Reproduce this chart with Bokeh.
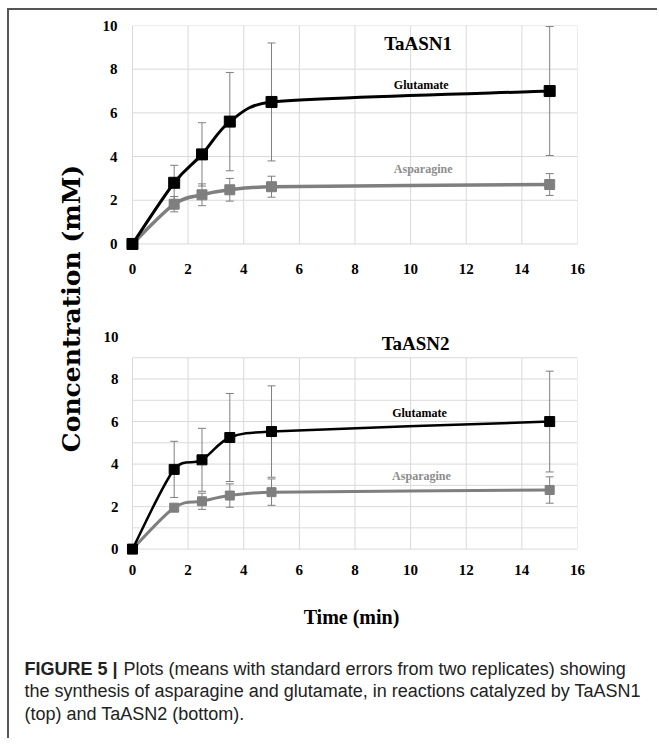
import math
from bokeh.plotting import figure
from bokeh.models import Range1d, ColumnDataSource, Whisker, TeeHead, Label, FixedTicker
from bokeh.layouts import row, column
from bokeh.embed import file_html
from bokeh.resources import INLINE

# ---------------- data ----------------
time_min = [0, 1.5, 2.5, 3.5, 5, 15]

glu_asn1 = [0, 2.8, 4.1, 5.6, 6.5, 7.0]
glu_asn1_err = [0, 0.8, 1.45, 2.25, 2.7, 2.95]
asn_asn1 = [0, 1.82, 2.25, 2.48, 2.62, 2.72]
asn_asn1_err = [0, 0.35, 0.5, 0.52, 0.48, 0.5]

glu_asn2 = [0, 3.75, 4.2, 5.25, 5.53, 6.0]
glu_asn2_err = [0, 1.32, 1.48, 2.07, 2.15, 2.37]
asn_asn2 = [0, 1.95, 2.25, 2.52, 2.68, 2.78]
asn_asn2_err = [0, 0.1, 0.38, 0.55, 0.62, 0.62]

x_ticks = [0, 2, 4, 6, 8, 10, 12, 14, 16]
y_ticks = [0, 2, 4, 6, 8, 10]
y_grid_top = [0, 2, 4, 6, 8, 10]
y_grid_bottom = [0, 1, 2, 3, 4, 5, 6, 7, 8, 9]

# ---------------- styles ----------------
SERIF = "Liberation Serif"
GRID = "#d9d9d9"
GREY = "#7f7f7f"
LABEL_GREY = "#8c8c8c"


def excel_bezier(xs, ys, sx=28.0, sy=21.6):
    P = [(x * sx, y * sy) for x, y in zip(xs, ys)]
    n = len(P)
    out = {k: [] for k in ("x0", "y0", "x1", "y1", "cx0", "cy0", "cx1", "cy1")}

    def d(a, b):
        return math.hypot(a[0] - b[0], a[1] - b[1])

    for i in range(n - 1):
        p0 = P[i - 1] if i > 0 else P[i]
        p1, p2 = P[i], P[i + 1]
        p3 = P[i + 2] if i + 2 < n else P[i + 1]
        d02, d12, d13 = d(p0, p2), d(p1, p2), d(p1, p3)
        f = g = 1.0 / 6.0
        if d02 / 6 >= d12 / 2:
            f = d12 / (2 * d02)
        if d13 / 6 >= d12 / 2:
            g = d12 / (2 * d13)
        b1 = (p1[0] + f * (p2[0] - p0[0]), p1[1] + f * (p2[1] - p0[1]))
        b2 = (p2[0] - g * (p3[0] - p1[0]), p2[1] - g * (p3[1] - p1[1]))
        out["x0"].append(p1[0] / sx); out["y0"].append(p1[1] / sy)
        out["x1"].append(p2[0] / sx); out["y1"].append(p2[1] / sy)
        out["cx0"].append(b1[0] / sx); out["cy0"].append(b1[1] / sy)
        out["cx1"].append(b2[0] / sx); out["cy1"].append(b2[1] / sy)
    return out


def serif_label(text, x, y, size, color="black"):
    return Label(x=x, y=y, text=text, text_font=SERIF, text_font_style="bold",
                 text_font_size=size, text_color=color, text_align="center",
                 text_baseline="middle")


def panel(height, borders, y_grid, glu, glu_err, asn, asn_err, title, title_xy,
          glu_xy, asn_xy, sizes, y_standoff, x_standoff):
    left, right, top, bottom = borders
    p = figure(width=568, height=height, x_range=Range1d(-0.25, 16), y_range=Range1d(-0.3, 10),
               output_backend="svg", toolbar_location=None,
               min_border_left=left, min_border_right=right,
               min_border_top=top, min_border_bottom=bottom)
    p.grid.visible = False
    p.outline_line_color = None

    # grid lines
    p.segment(x0=[x_ticks[0]] * len(y_grid), x1=[x_ticks[-1]] * len(y_grid),
              y0=y_grid, y1=y_grid, line_color=GRID, line_width=1, level="image")
    p.segment(x0=x_ticks, x1=x_ticks, y0=[y_grid[0]] * len(x_ticks),
              y1=[y_grid[-1]] * len(x_ticks), line_color=GRID, line_width=1, level="image")

    # axes
    p.xaxis.ticker = FixedTicker(ticks=x_ticks)
    p.yaxis.ticker = FixedTicker(ticks=y_ticks)
    for ax in (p.xaxis, p.yaxis):
        ax.axis_line_color = None
        ax.major_tick_line_color = None
        ax.minor_tick_line_color = None
        ax.major_label_text_font = SERIF
        ax.major_label_text_font_style = "bold"
        ax.major_label_text_font_size = "15px"
        ax.major_label_text_color = "black"
    p.yaxis.major_label_standoff = y_standoff
    p.xaxis.major_label_standoff = x_standoff

    glu_lw, asn_lw, glu_ms, asn_ms = sizes

    for ys, errs in ((asn, asn_err), (glu, glu_err)):
        src = ColumnDataSource(dict(t=time_min,
                                    lo=[y - e for y, e in zip(ys, errs)],
                                    up=[y + e for y, e in zip(ys, errs)]))
        w = Whisker(source=src, base="t", lower="lo", upper="up", dimension="height",
                    line_color=GREY, line_width=1, level="underlay",
                    upper_head=TeeHead(size=8, line_color=GREY, line_width=1),
                    lower_head=TeeHead(size=8, line_color=GREY, line_width=1))
        p.add_layout(w)

    p.bezier(source=ColumnDataSource(excel_bezier(time_min, asn)),
             x0="x0", y0="y0", x1="x1", y1="y1", cx0="cx0", cy0="cy0",
             cx1="cx1", cy1="cy1", line_color=GREY, line_width=asn_lw)
    p.bezier(source=ColumnDataSource(excel_bezier(time_min, glu)),
             x0="x0", y0="y0", x1="x1", y1="y1", cx0="cx0", cy0="cy0",
             cx1="cx1", cy1="cy1", line_color="black", line_width=glu_lw)
    p.scatter(time_min, asn, marker="square", size=asn_ms, fill_color=GREY, line_color=GREY)
    p.scatter(time_min, glu, marker="square", size=glu_ms, fill_color="black", line_color="black")

    p.add_layout(serif_label(title, title_xy[0], title_xy[1], "19px"))
    p.add_layout(serif_label("Glutamate", glu_xy[0], glu_xy[1], "12px"))
    p.add_layout(serif_label("Asparagine", asn_xy[0], asn_xy[1], "12px", LABEL_GREY))
    return p


p1 = panel(280, (34, 80, 15, 40), y_grid_top, glu_asn1, glu_asn1_err, asn_asn1, asn_asn1_err,
           "TaASN1", (10.27, 9.17), (10.38, 7.29), (10.45, 3.44),
           (3, 3.5, 11, 10), 2, 7)
p2 = panel(340, (36, 77, 46, 75), y_grid_bottom, glu_asn2, glu_asn2_err, asn_asn2, asn_asn2_err,
           "TaASN2", (10.18, 9.67), (10.32, 6.38), (10.39, 3.43),
           (2.5, 3, 10, 9), 1, 3)
p2.xaxis.axis_label = "Time (min)"
p2.xaxis.axis_label_text_font = SERIF
p2.xaxis.axis_label_text_font_style = "bold"
p2.xaxis.axis_label_text_font_size = "20px"
p2.xaxis.axis_label_text_color = "black"
p2.xaxis.axis_label_standoff = 28

# y-axis title panel
ylab = figure(width=80, height=620, x_range=Range1d(0, 80), y_range=Range1d(0, 620),
              output_backend="svg", toolbar_location=None, min_border=0,
              x_axis_location=None, y_axis_location=None)
ylab.grid.visible = False
ylab.outline_line_color = None
ylab.add_layout(Label(x=62, y=322, text="Concentration (mM)", angle=90, angle_units="deg",
                      text_align="center", text_baseline="middle", text_font="DejaVu Serif",
                      text_font_style="bold", text_font_size="25px", text_color="black"))

# caption panel
cap = figure(width=648, height=108, x_range=Range1d(0, 648), y_range=Range1d(0, 108),
             output_backend="svg", toolbar_location=None, min_border=0,
             x_axis_location=None, y_axis_location=None)
cap.grid.visible = False
cap.outline_line_color = None
CAP_FONT = "Liberation Sans"
CAP_COLOR = "#222222"
cap.add_layout(Label(x=15, y=70, text="FIGURE 5 |", text_font=CAP_FONT, text_font_style="bold",
                     text_font_size="18px", text_color=CAP_COLOR, text_baseline="middle"))
cap.add_layout(Label(x=114, y=70, text="Plots (means with standard errors from two replicates) showing",
                     text_font=CAP_FONT, text_font_size="18px", text_color=CAP_COLOR,
                     text_baseline="middle"))
cap.add_layout(Label(x=15, y=48, text="the synthesis of asparagine and glutamate, in reactions catalyzed by TaASN1",
                     text_font=CAP_FONT, text_font_size="18px", text_color=CAP_COLOR,
                     text_baseline="middle"))
cap.add_layout(Label(x=15, y=25, text="(top) and TaASN2 (bottom).",
                     text_font=CAP_FONT, text_font_size="18px", text_color=CAP_COLOR,
                     text_baseline="middle"))

layout = column(row(ylab, column(p1, p2)), cap,
                styles={"border-top": "2px solid #555555", "border-left": "2px solid #555555",
                        "margin-left": "7px", "margin-top": "8px"})

open("out.html", "w").write(file_html(layout, INLINE))
